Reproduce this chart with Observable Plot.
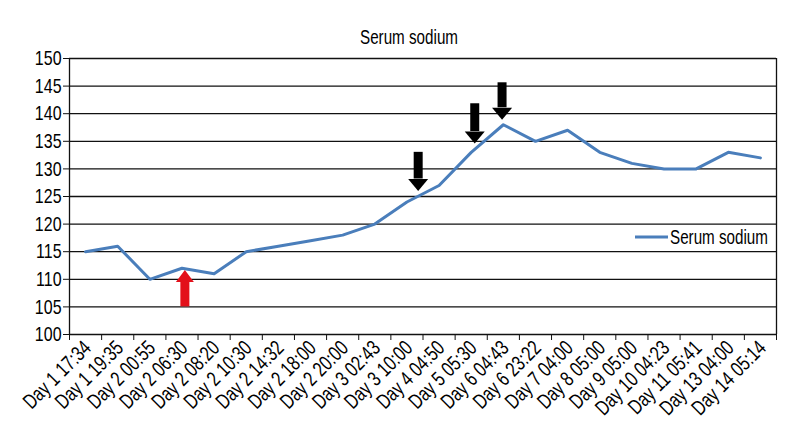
<!DOCTYPE html>
<html><head><meta charset="utf-8">
<script src="https://cdn.jsdelivr.net/npm/d3@7"></script>
<script src="https://cdn.jsdelivr.net/npm/@observablehq/plot@0.6"></script>
<style>
html,body{margin:0;padding:0;background:#fff;}
#chart{width:800px;height:440px;}
</style>
</head><body><div id="chart"></div>
<script>
const title = "Serum sodium";
const seriesName = "Serum sodium";
const categories = ["Day 1 17:34","Day 1 19:35","Day 2 00:55","Day 2 06:30","Day 2 08:20","Day 2 10:30","Day 2 14:32","Day 2 18:00","Day 2 20:00","Day 3 02:43","Day 3 10:00","Day 4 04:50","Day 5 05:30","Day 6 04:43","Day 6 23:22","Day 7 04:00","Day 8 05:00","Day 9 05:00","Day 10 04:23","Day 11 05:41","Day 13 04:00","Day 14 05:14"];
const sodium = [115,116,110,112,111,115,116,117,118,120,124,127,133,138,135,137,133,131,130,130,133,132];
const yTicks = [100,105,110,115,120,125,130,135,140,145,150];
// annotation arrows: category, fractional shift within the band, tail value, tip value, colour
const arrowCategory = ["Day 2 06:30","Day 3 10:00","Day 5 05:30","Day 6 04:43"];
const arrowShift = [0.09,0.35,0.11,-0.04];
const arrowTail = [105,133,141.8,145.6];
const arrowTip = [111.7,126,134.6,138.9];
const arrowColor = ["#e3101a","#000000","#000000","#000000"];

const FONT = '"Liberation Sans",Arial,sans-serif';
const NARROW = 0.76; // horizontal compression to imitate a condensed face
const W = 800, H = 440, mL = 69, mR = 24, mT = 58, mB = 106;
const pxPerUnit = (H - mT - mB) / (yTicks[yTicks.length-1] - yTicks[0]);
const headLen = 12 / pxPerUnit;

const data = categories.map((c, i) => ({label: c, x: i + 0.5, y: sodium[i]}));
const arrows = arrowCategory.map((c, i) => {
  const down = arrowTip[i] < arrowTail[i];
  return {
    x: categories.indexOf(c) + 0.5 + arrowShift[i],
    tail: arrowTail[i],
    tip: arrowTip[i],
    base: down ? arrowTip[i] + headLen : arrowTip[i] - headLen,
    color: arrowColor[i],
    down
  };
});
const boundaries = d3.range(0, categories.length + 1);

const downHead = {draw(ctx){ ctx.moveTo(-10,-12); ctx.lineTo(10,-12); ctx.lineTo(0,0); ctx.closePath(); }};
const upHead = {draw(ctx){ ctx.moveTo(-9,12); ctx.lineTo(9,12); ctx.lineTo(0,0); ctx.closePath(); }};

const legendMark = (index, scales, values, dims) => {
  const g = d3.create("svg:g");
  const xr = dims.width - dims.marginRight;
  const y = 237;
  g.append("line").attr("x1", xr - 141).attr("x2", xr - 108).attr("y1", y).attr("y2", y)
    .attr("stroke", "#4a7ebb").attr("stroke-width", 3);
  g.append("text").attr("x", xr - 106).attr("y", y).attr("dy", "0.35em")
    .attr("text-anchor", "start")
    .attr("font-family", FONT).attr("font-size", 20).attr("fill", "#000").text(seriesName);
  return g.node();
};

const chart = Plot.plot({
  width: W, height: H,
  marginLeft: mL, marginRight: mR, marginTop: mT, marginBottom: mB,
  style: {fontFamily: FONT, background: "#fff", color: "#000"},
  x: {type: "linear", domain: [0, categories.length], axis: null},
  y: {domain: [yTicks[0], yTicks[yTicks.length-1]], axis: null},
  marks: [
    Plot.gridY(yTicks, {stroke: "#111", strokeOpacity: 1, strokeWidth: 1.3}),
    Plot.ruleX([0, categories.length], {stroke: "#111", strokeWidth: 1.3}),
    Plot.axisY(yTicks, {tickSize: 6, tickPadding: 2, fontSize: 21, label: null, stroke: "#111"}),
    Plot.axisX(boundaries, {tickSize: 6, tickFormat: () => "", label: null, stroke: "#111"}),
    Plot.axisX(data.map(d => d.x), {tickSize: 0, tickPadding: 10, tickRotate: -45, fontSize: 21, dx: 2,
      tickFormat: v => categories[Math.floor(v)], label: null}),
    Plot.line(data, {x: "x", y: "y", stroke: "#4a7ebb", strokeWidth: 3}),
    Plot.ruleX(arrows, {x: "x", y1: "tail", y2: "base", stroke: "color", strokeWidth: 9}),
    Plot.dot(arrows.filter(d => d.down), {x: "x", y: "tip", r: 5, symbol: downHead, fill: "color", stroke: null}),
    Plot.dot(arrows.filter(d => !d.down), {x: "x", y: "tip", r: 5, symbol: upHead, fill: "color", stroke: null}),
    Plot.text([title], {frameAnchor: "top", lineAnchor: "bottom", dy: -15, dx: -14, fontSize: 20, fill: "#000"}),
    legendMark
  ]
});
document.getElementById("chart").append(chart);
chart.querySelectorAll("text").forEach(t => {
  const len = t.getComputedTextLength();
  if (len > 0) {
    t.setAttribute("textLength", (len * NARROW).toFixed(2));
    t.setAttribute("lengthAdjust", "spacingAndGlyphs");
  }
});
</script>
</body></html>
